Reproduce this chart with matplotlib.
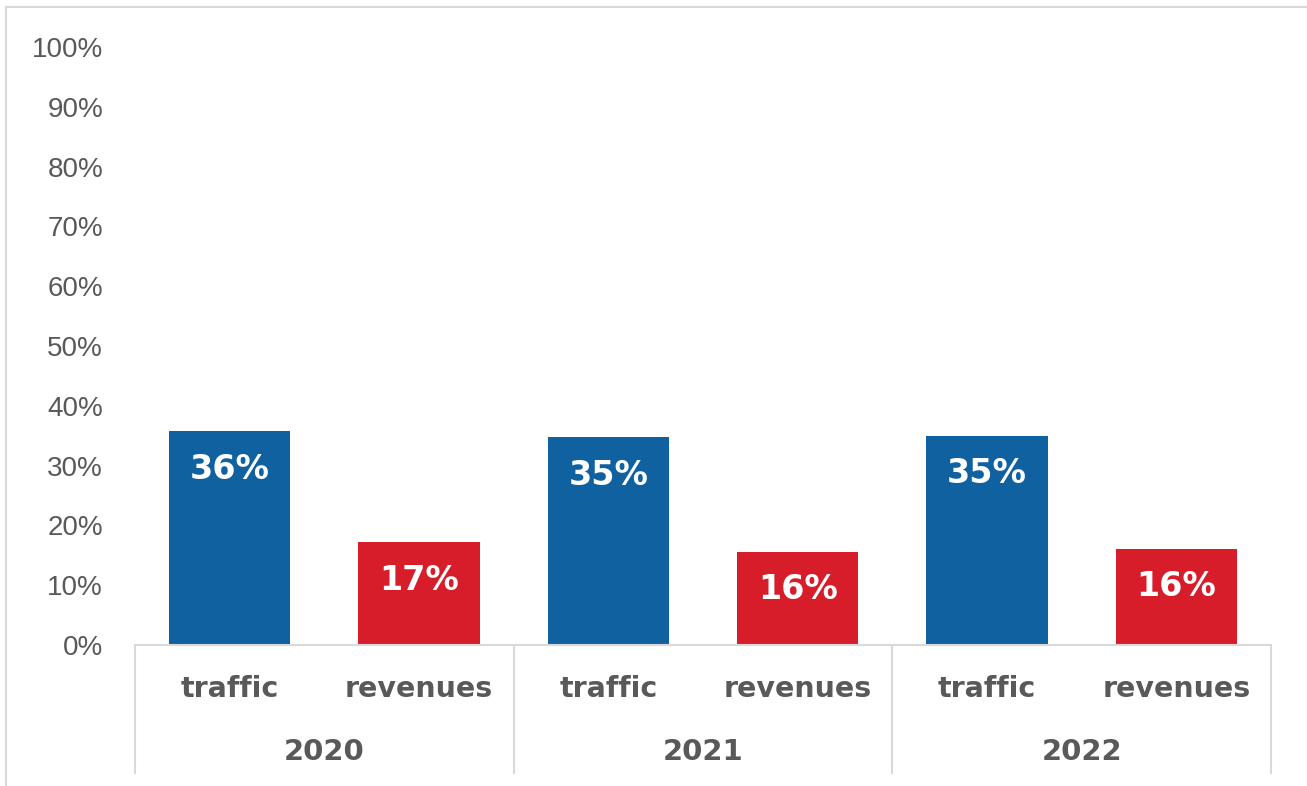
import matplotlib
matplotlib.use("Agg")
import matplotlib.pyplot as plt
from matplotlib.lines import Line2D
import matplotlib.transforms as mtransforms

years = ["2020", "2021", "2022"]
metrics = ["traffic", "revenues"]
values = [0.358, 0.172, 0.348, 0.156, 0.350, 0.161]
labels = ["36%", "17%", "35%", "16%", "35%", "16%"]
colors_by_metric = {"traffic": "#0F61A0", "revenues": "#D71D2A"}
yticks = [0.0, 0.1, 0.2, 0.3, 0.4, 0.5, 0.6, 0.7, 0.8, 0.9, 1.0]
ytick_labels = ["0%", "10%", "20%", "30%", "40%", "50%", "60%", "70%", "80%", "90%", "100%"]

W, H = 1307, 786
fig = plt.figure(figsize=(W / 100, H / 100), dpi=100)
ax = fig.add_axes([135 / W, 1 - 645 / H, (1271 - 135) / W, (645 - 47) / H])

txt = "#595959"
grid_c = "#D9D9D9"

cats = [(y, m) for y in years for m in metrics]
xs = list(range(len(cats)))
cols = [colors_by_metric[m] for _, m in cats]
bars = ax.bar(xs, values, width=0.64, color=cols, zorder=2)

for b, lab in zip(bars, labels):
    ax.annotate(lab, (b.get_x() + b.get_width() / 2, b.get_height()),
                xytext=(0, -27.5), textcoords="offset points",
                ha="center", va="center", color="white",
                fontsize=24, fontweight="bold", family="DejaVu Sans")

ax.set_xlim(-0.5, len(cats) - 0.5)
ax.set_ylim(0, 1.0)
ax.set_yticks(yticks)
ax.set_yticklabels(ytick_labels, fontsize=20, color=txt, family="Liberation Sans")
ax.tick_params(axis="y", length=0, pad=23)
ax.set_xticks([])
for s in ["top", "right", "left"]:
    ax.spines[s].set_visible(False)
ax.spines["bottom"].set_color(grid_c)
ax.spines["bottom"].set_linewidth(1.5)

trans = mtransforms.blended_transform_factory(ax.transData, ax.transAxes)
y_sep_bottom = (645 - 773) / (645 - 47)
y_metric = (645 - 689) / (645 - 47)
y_year = (645 - 752) / (645 - 47)

for i, (yr, m) in enumerate(cats):
    ax.text(i, y_metric, m, transform=trans, ha="center", va="center",
            fontsize=20.5, fontweight="bold", color=txt, family="DejaVu Sans")

for j, yr in enumerate(years):
    ax.text(2 * j + 0.5, y_year, yr, transform=trans, ha="center", va="center",
            fontsize=21, fontweight="bold", color=txt, family="DejaVu Sans")

for k in range(len(years) + 1):
    xsep = 2 * k - 0.5
    ax.plot([xsep, xsep], [0, y_sep_bottom], transform=trans, color=grid_c,
            lw=1.5, clip_on=False, zorder=1)

# outer chart border (top and left visible)
fig.add_artist(Line2D([5.5 / W, 1.0], [1 - 6.5 / H, 1 - 6.5 / H],
                      transform=fig.transFigure, color=grid_c, lw=1.5))
fig.add_artist(Line2D([5.5 / W, 5.5 / W], [0, 1 - 6.5 / H],
                      transform=fig.transFigure, color=grid_c, lw=1.5))

fig.savefig("out.png", dpi=100, facecolor="white")
